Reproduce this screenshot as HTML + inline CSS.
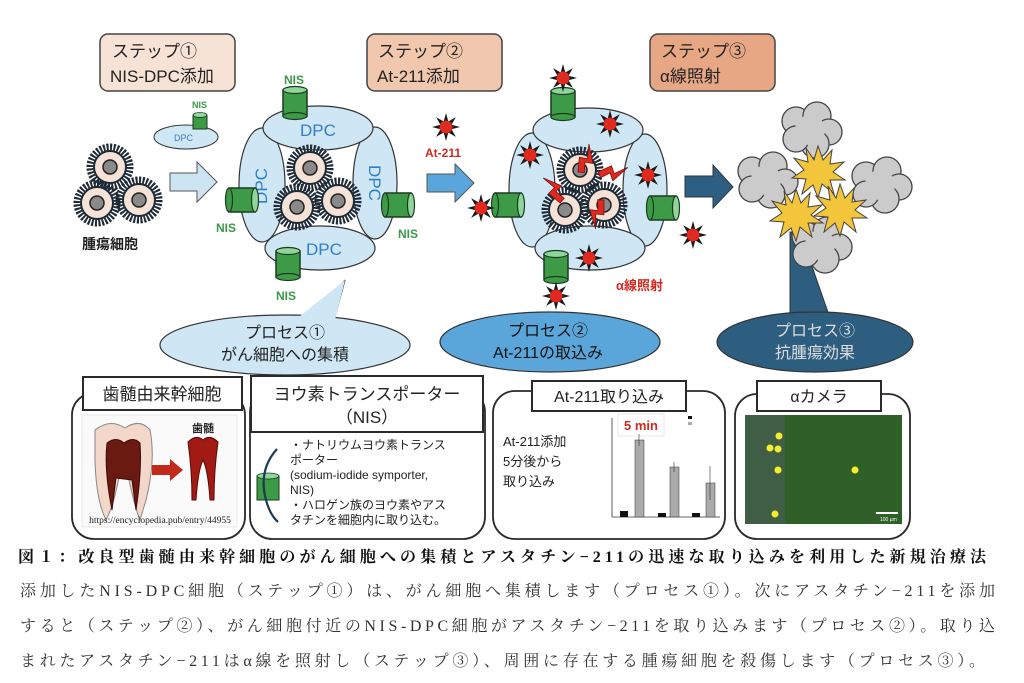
<!DOCTYPE html>
<html><head><meta charset="utf-8"><style>
html,body{margin:0;padding:0;background:#fff;}
svg{display:block;}
.j{font-family:"Liberation Sans","Noto Sans CJK JP",sans-serif;}
.s{font-family:"Liberation Serif","Noto Serif CJK SC",serif;}
</style></head><body>
<svg width="1024" height="683" viewBox="0 0 1024 683" xmlns="http://www.w3.org/2000/svg">
<defs>
<g id="cell">
<circle r="19.5" fill="none" stroke="#1e2a36" stroke-width="8" stroke-dasharray="2 1.4"/>
<circle r="16" fill="#f6e3d8" stroke="#1e2a36" stroke-width="2"/>
<circle r="7" fill="#8a8a8a" stroke="#222" stroke-width="1.5"/>
</g>
<g id="star">
<polygon points="0,-14 2.3,-5.5 9.9,-9.9 5.5,-2.3 14,0 5.5,2.3 9.9,9.9 2.3,5.5 0,14 -2.3,5.5 -9.9,9.9 -5.5,2.3 -14,0 -5.5,-2.3 -9.9,-9.9 -2.3,-5.5" fill="#1a1a1a"/>
<circle r="6.5" fill="#e02a1f"/>
</g>
<g id="cylV">
<rect x="-12" y="-13" width="24" height="26" fill="#3d9b47" stroke="#1c3a20" stroke-width="1.5"/>
<ellipse cx="0" cy="-13" rx="12" ry="3.5" fill="#8fd69a" stroke="#1c3a20" stroke-width="1.2"/>
<ellipse cx="0" cy="13" rx="12" ry="3.5" fill="#3d9b47" stroke="#1c3a20" stroke-width="1.2"/>
</g>
<g id="cylH">
<rect x="-13" y="-12" width="26" height="24" fill="#3d9b47" stroke="#1c3a20" stroke-width="1.5"/>
<ellipse cx="-13" cy="0" rx="3.5" ry="12" fill="#3d9b47" stroke="#1c3a20" stroke-width="1.2"/>
<ellipse cx="13" cy="0" rx="3.5" ry="12" fill="#8fd69a" stroke="#1c3a20" stroke-width="1.2"/>
</g>
<g id="boom">
<polygon points="0,-26 5,-12 14,-22 12,-8 26,-10 15,0 27,8 12,8 16,22 4,12 0,26 -5,13 -16,22 -12,7 -26,6 -14,-2 -24,-14 -10,-10 -12,-24 -4,-12" fill="#f3c53a" stroke="#444" stroke-width="1"/>
</g>
<g id="cloud" fill="#cbcbcb" stroke="#444" stroke-width="1.3">
<circle cx="-14" cy="-9" r="14"/><circle cx="7" cy="-14" r="14"/><circle cx="19" cy="2" r="13"/><circle cx="5" cy="14" r="14"/><circle cx="-14" cy="9" r="13"/>
<circle cx="0" cy="0" r="15" stroke="none"/>
</g>
<g id="bolt"><polygon points="0,0 6,-2 2,-12 10,-14 -2,-30 3,-16 -5,-14" fill="#e02a1f" stroke="#7a1010" stroke-width="0.8"/></g>
</defs>

<rect x="100" y="34" width="135" height="57" rx="8" fill="#f7e2d6" stroke="#444" stroke-width="1.5"/>
<text class="j" x="112" y="57" font-size="17" fill="#222">ステップ①</text>
<text class="j" x="110" y="82" font-size="17" fill="#222">NIS-DPC添加</text>
<rect x="367" y="34" width="135" height="57" rx="8" fill="#f1c8ad" stroke="#444" stroke-width="1.5"/>
<text class="j" x="378" y="57" font-size="17" fill="#222">ステップ②</text>
<text class="j" x="377" y="82" font-size="17" fill="#222">At-211添加</text>
<rect x="650" y="34" width="125" height="57" rx="8" fill="#e8a784" stroke="#444" stroke-width="1.5"/>
<text class="j" x="661" y="57" font-size="17" fill="#222">ステップ③</text>
<text class="j" x="660" y="82" font-size="17" fill="#222">α線照射</text>

<use href="#cell" x="110" y="167"/><use href="#cell" x="97" y="203"/><use href="#cell" x="139" y="200"/>
<text class="j" x="82" y="249" font-size="14" font-weight="bold" fill="#222">腫瘍細胞</text>

<ellipse cx="186" cy="137" rx="32" ry="12" fill="#cfe7f4" stroke="#333" stroke-width="1"/>
<text class="j" x="174" y="141" font-size="9" fill="#3a7fc0">DPC</text>
<rect x="193" y="115" width="14" height="14" fill="#3d9b47" stroke="#1c3a20"/>
<ellipse cx="200" cy="115" rx="7" ry="2.5" fill="#8fd69a" stroke="#1c3a20" stroke-width="0.8"/>
<text class="j" x="192" y="108" font-size="9" font-weight="bold" fill="#3a9a48">NIS</text>

<polygon points="170,173 197,173 197,162 217,182 197,202 197,191 170,191" fill="#cde5f2" stroke="#555" stroke-width="1"/>

<g stroke="#333" stroke-width="1.2" fill="#cfe7f4">
<ellipse cx="262" cy="185" rx="23" ry="57"/>
<ellipse cx="375" cy="183" rx="22" ry="56"/>
<ellipse cx="318" cy="128" rx="55" ry="22"/>
<ellipse cx="320" cy="248" rx="55" ry="22"/>
</g>
<use href="#cell" x="310" y="168"/><use href="#cell" x="297" y="207"/><use href="#cell" x="338" y="201"/>
<text class="j" x="300" y="136" font-size="17" fill="#2f7fc6">DPC</text>
<text class="j" x="306" y="255" font-size="17" fill="#2f7fc6">DPC</text>
<text class="j" font-size="17" fill="#2f7fc6" transform="translate(267,186) rotate(-90)" text-anchor="middle">DPC</text>
<text class="j" font-size="17" fill="#2f7fc6" transform="translate(369,183) rotate(90)" text-anchor="middle">DPC</text>
<use href="#cylV" x="295" y="103"/><use href="#cylH" x="242" y="200"/><use href="#cylH" x="398" y="205"/><use href="#cylV" x="288" y="264"/>
<text class="j" x="284" y="84" font-size="12" font-weight="bold" fill="#3a9a48">NIS</text>
<text class="j" x="216" y="232" font-size="12" font-weight="bold" fill="#3a9a48">NIS</text>
<text class="j" x="398" y="238" font-size="12" font-weight="bold" fill="#3a9a48">NIS</text>
<text class="j" x="276" y="300" font-size="12" font-weight="bold" fill="#3a9a48">NIS</text>

<use href="#star" x="446" y="127"/>
<text class="j" x="425" y="157" font-size="12" font-weight="bold" fill="#d02a22">At-211</text>
<polygon points="427,174 455,174 455,164 474,183 455,202 455,192 427,192" fill="#5aa5db" stroke="#555" stroke-width="1"/>

<g stroke="#333" stroke-width="1.2" fill="#cfe7f4">
<ellipse cx="532" cy="190" rx="23" ry="57"/>
<ellipse cx="645" cy="190" rx="22" ry="56"/>
<ellipse cx="588" cy="130" rx="55" ry="22"/>
<ellipse cx="590" cy="248" rx="55" ry="22"/>
</g>
<use href="#cell" x="580" y="170"/><use href="#cell" x="565" y="210"/><use href="#cell" x="604" y="205"/>
<use href="#cylV" x="563" y="104"/><use href="#cylH" x="508" y="205"/><use href="#cylH" x="663" y="208"/><use href="#cylV" x="556" y="267"/>
<use href="#star" x="563" y="78"/><use href="#star" x="610" y="124"/><use href="#star" x="530" y="155"/><use href="#star" x="648" y="175"/>
<use href="#star" x="481" y="208"/><use href="#star" x="693" y="235"/><use href="#star" x="589" y="258"/><use href="#star" x="556" y="296"/>
<use href="#bolt" x="578" y="172" transform="rotate(25 578 172)"/>
<use href="#bolt" x="598" y="172" transform="rotate(85 598 172)"/>
<use href="#bolt" x="560" y="203" transform="rotate(-30 560 203)"/>
<use href="#bolt" x="604" y="200" transform="rotate(200 604 200)"/>
<text class="j" x="616" y="290" font-size="13" font-weight="bold" fill="#d02a22">α線照射</text>

<polygon points="685,176 713,176 713,165 733,187 713,208 713,197 685,197" fill="#2d5f84" stroke="#333" stroke-width="1"/>

<polygon points="790,232 800,232 830,318 790,318" fill="#2d5e80" stroke="#333" stroke-width="1"/>
<use href="#cloud" x="810" y="130"/><use href="#cloud" x="766" y="180"/><use href="#cloud" x="880" y="185"/><use href="#cloud" x="820" y="245"/>
<use href="#boom" x="818" y="172"/><use href="#boom" x="840" y="210"/><use href="#boom" x="796" y="215"/>

<polygon points="310,322 345,280 330,335" fill="#cfe7f4" stroke="#333" stroke-width="1.2"/>
<ellipse cx="285" cy="345" rx="125" ry="30" fill="#cfe7f4" stroke="#333" stroke-width="1.2"/>
<polygon points="300,316 345,280 335,320" fill="#cfe7f4"/>
<text class="j" x="285" y="338" font-size="16" fill="#222" text-anchor="middle">プロセス①</text>
<text class="j" x="285" y="360" font-size="16" fill="#222" text-anchor="middle">がん細胞への集積</text>

<ellipse cx="550" cy="342" rx="110" ry="30" fill="#5aa6da" stroke="#333" stroke-width="1.2"/>
<text class="j" x="548" y="336" font-size="16" fill="#111" text-anchor="middle">プロセス②</text>
<text class="j" x="548" y="358" font-size="16" fill="#111" text-anchor="middle">At-211の取込み</text>

<ellipse cx="815" cy="342" rx="98" ry="30" fill="#2d5e80" stroke="#333" stroke-width="1.2"/>
<text class="j" x="815" y="336" font-size="16" fill="#ddd" text-anchor="middle">プロセス③</text>
<text class="j" x="815" y="358" font-size="16" fill="#ddd" text-anchor="middle">抗腫瘍効果</text>

<rect x="72" y="393" width="173" height="146" rx="22" fill="#fff" stroke="#2a2a2a" stroke-width="1.8"/>
<rect x="82" y="415" width="155" height="112" fill="#fafafa" stroke="#ddd" stroke-width="0.6"/>
<path d="M95,430 Q110,418 125,428 Q140,418 150,430 Q156,460 146,500 L140,520 Q134,505 128,475 L120,472 Q114,505 106,520 Q96,500 95,460 Z" fill="#f3d7cb" stroke="#888" stroke-width="1"/>
<path d="M107,443 Q116,436 124,443 Q133,436 140,443 Q142,470 136,510 L132,480 L116,478 L112,510 Q104,470 107,443 Z" fill="#6b1a12" stroke="#3a0a06" stroke-width="1"/>
<polygon points="152,465 170,465 170,459 183,470 170,481 170,475 152,475" fill="#c22a1c"/>
<path d="M188,442 Q196,434 203,440 Q210,434 218,442 Q214,470 214,500 L210,500 Q208,470 203,460 Q198,470 196,500 L192,500 Q192,470 188,442 Z" fill="#a11a14" stroke="#5a0a06" stroke-width="1"/>
<text class="j" x="192" y="432" font-size="11" font-weight="bold" fill="#222">歯髄</text>
<text class="s" x="160" y="523" font-size="9.5" fill="#222" text-anchor="middle">https://encyclopedia.pub/entry/44955</text>
<rect x="83" y="377" width="159" height="33" fill="#fff" stroke="#2a2a2a" stroke-width="2"/>
<text class="j" x="162" y="400" font-size="17" fill="#222" text-anchor="middle">歯髄由来幹細胞</text>

<rect x="250" y="390" width="235" height="149" rx="22" fill="#fff" stroke="#2a2a2a" stroke-width="1.8"/>
<rect x="251" y="376" width="232" height="56" fill="#fff" stroke="#2a2a2a" stroke-width="2"/>
<text class="j" x="367" y="400" font-size="17" fill="#222" text-anchor="middle">ヨウ素トランスポーター</text>
<text class="j" x="367" y="423" font-size="17" fill="#222" text-anchor="middle">（NIS）</text>
<rect x="257" y="476" width="22" height="24" fill="#3d9b47" stroke="#1c3a20"/>
<ellipse cx="268" cy="476" rx="11" ry="3" fill="#8fd69a" stroke="#1c3a20" stroke-width="0.8"/>
<path d="M277,449 Q258,470 266,500 Q270,515 278,522" fill="none" stroke="#1e3a50" stroke-width="2.2"/>
<g class="j" font-size="12" fill="#222">
<text x="290" y="449">・ナトリウムヨウ素トランス</text>
<text x="290" y="464">ポーター</text>
<text x="290" y="479">(sodium-iodide symporter,</text>
<text x="290" y="494">NIS)</text>
<text x="290" y="509">・ハロゲン族のヨウ素やアス</text>
<text x="290" y="524">タチンを細胞内に取り込む。</text>
</g>

<rect x="493" y="391" width="232" height="148" rx="22" fill="#fff" stroke="#2a2a2a" stroke-width="1.8"/>
<rect x="532" y="381" width="154" height="30" fill="#fff" stroke="#2a2a2a" stroke-width="2"/>
<text class="j" x="609" y="402" font-size="16" fill="#222" text-anchor="middle">At-211取り込み</text>
<g class="j" font-size="13" fill="#222">
<text x="503" y="446">At-211添加</text><text x="503" y="466">5分後から</text><text x="503" y="486">取り込み</text>
</g>
<line x1="612" y1="418" x2="612" y2="517" stroke="#333" stroke-width="0.8"/>
<line x1="612" y1="517" x2="720" y2="517" stroke="#333" stroke-width="0.8"/>
<rect x="618" y="414" width="46" height="22" fill="#fff" stroke="#ddd" stroke-width="0.6"/>
<text class="j" x="624" y="430" font-size="13" font-weight="bold" fill="#d02a22">5 min</text>
<rect x="620" y="511" width="8" height="6" fill="#111"/><rect x="635" y="440" width="9" height="77" fill="#aaa" stroke="#333" stroke-width="0.5"/>
<rect x="658" y="513" width="8" height="4" fill="#111"/><rect x="670" y="467" width="9" height="50" fill="#aaa" stroke="#333" stroke-width="0.5"/>
<rect x="692" y="513" width="8" height="4" fill="#111"/><rect x="706" y="483" width="9" height="34" fill="#aaa" stroke="#333" stroke-width="0.5"/>
<line x1="639" y1="434" x2="639" y2="446" stroke="#333" stroke-width="0.6"/>
<line x1="674" y1="462" x2="674" y2="472" stroke="#333" stroke-width="0.6"/>
<line x1="710" y1="466" x2="710" y2="500" stroke="#333" stroke-width="0.6"/>
<rect x="688" y="416" width="4" height="3" fill="#111"/><rect x="688" y="422" width="4" height="3" fill="#aaa"/>

<rect x="735" y="394" width="175" height="145" rx="22" fill="#fff" stroke="#2a2a2a" stroke-width="1.8"/>
<rect x="757" y="381" width="124" height="30" fill="#fff" stroke="#2a2a2a" stroke-width="2"/>
<text class="j" x="819" y="402" font-size="16" fill="#222" text-anchor="middle">αカメラ</text>
<rect x="745" y="415" width="157" height="109" fill="#2f6028"/>
<rect x="745" y="415" width="40" height="109" fill="#6a5a8a" opacity="0.3"/>
<g fill="#f5ee2a"><circle cx="770" cy="448" r="3.5"/><circle cx="779" cy="436" r="3.5"/><circle cx="778" cy="449" r="3.5"/><circle cx="778" cy="470" r="3.5"/><circle cx="855" cy="470" r="3.5"/><circle cx="775" cy="514" r="3.5"/></g>
<rect x="876" y="512" width="22" height="2" fill="#fff"/>
<text class="j" x="880" y="521" font-size="5" fill="#fff">100 µm</text>

<text class="s" x="18" y="562" font-size="16" font-weight="bold" fill="#111" textLength="968" lengthAdjust="spacing">図１：改良型歯髄由来幹細胞のがん細胞への集積とアスタチン−211の迅速な取り込みを利用した新規治療法</text>
<text class="s" x="20" y="596" font-size="16" fill="#333" textLength="975" lengthAdjust="spacing">添加したNIS-DPC細胞（ステップ①）は、がん細胞へ集積します（プロセス①）。次にアスタチン−211を添加</text>
<text class="s" x="20" y="631" font-size="16" fill="#333" textLength="975" lengthAdjust="spacing">すると（ステップ②）、がん細胞付近のNIS-DPC細胞がアスタチン−211を取り込みます（プロセス②）。取り込</text>
<text class="s" x="20" y="666" font-size="16" fill="#333" textLength="965" lengthAdjust="spacing">まれたアスタチン−211はα線を照射し（ステップ③）、周囲に存在する腫瘍細胞を殺傷します（プロセス③）。</text>
</svg>
</body></html>
